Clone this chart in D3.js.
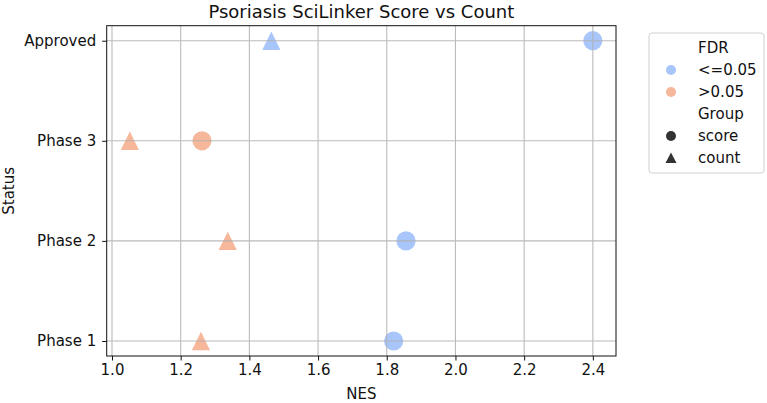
<!DOCTYPE html>
<html>
<head>
<meta charset="utf-8">
<script src="https://cdn.jsdelivr.net/npm/d3@7"></script>
<style>
  body { margin: 0; background: #fff; }
  text { font-family: "DejaVu Sans", sans-serif; fill: #111; }
</style>
</head>
<body>
<svg id="chart" width="767" height="403"></svg>
<script>
// ---- data ----
const statuses = ["Phase 1", "Phase 2", "Phase 3", "Approved"];
const scoreStatus = ["Approved", "Phase 3", "Phase 2", "Phase 1"];
const scoreNES = [2.40, 1.262, 1.856, 1.820];
const scoreFDR = ["<=0.05", ">0.05", "<=0.05", "<=0.05"];
const countStatus = ["Approved", "Phase 3", "Phase 2", "Phase 1"];
const countNES = [1.464, 1.052, 1.337, 1.259];
const countFDR = ["<=0.05", ">0.05", ">0.05", ">0.05"];
const xTicks = [1.0, 1.2, 1.4, 1.6, 1.8, 2.0, 2.2, 2.4];
const fdrLevels = ["<=0.05", ">0.05"];
const groups = ["score", "count"];

const points = [];
scoreStatus.forEach((s, i) => points.push({status: s, nes: scoreNES[i], fdr: scoreFDR[i], group: "score"}));
countStatus.forEach((s, i) => points.push({status: s, nes: countNES[i], fdr: countFDR[i], group: "count"}));

// ---- layout ----
const svg = d3.select("#chart");
const L = 106.7, R = 616, T = 25.7, B = 356;
const FS = "15px";

const xmin = d3.min(points, d => d.nes), xmax = d3.max(points, d => d.nes);
const pad = (xmax - xmin) * 0.05;
const x = d3.scaleLinear().domain([xmin - pad, xmax + pad]).range([L, R]);
const yIdx = d3.scaleLinear().domain([-0.15, 3.15]).range([B, T]);
const y = s => yIdx(statuses.indexOf(s));

const color = d3.scaleOrdinal().domain(fdrLevels).range(["#a9c6fb", "#f6b79b"]);

// markers (drawn beneath grid, like matplotlib)
const markers = svg.append("g");
markers.selectAll("path").data(points).enter().append("path")
  .attr("transform", d => `translate(${x(d.nes)},${y(d.status)})`)
  .attr("d", d => d.group === "score"
      ? d3.symbol().type(d3.symbolCircle).size(Math.PI * 9.6 * 9.6)()
      : "M0,-9.2L9.1,9.2L-9.1,9.2Z")
  .attr("fill", d => color(d.fdr));

// grid
const grid = svg.append("g").attr("stroke", "#b0b0b0").attr("stroke-width", 1.1).attr("opacity", 0.85);
grid.selectAll("line.v").data(xTicks).enter().append("line")
  .attr("x1", d => x(d)).attr("x2", d => x(d)).attr("y1", T).attr("y2", B);
grid.selectAll("line.h").data(statuses).enter().append("line")
  .attr("y1", d => y(d)).attr("y2", d => y(d)).attr("x1", L).attr("x2", R);

// frame
svg.append("rect").attr("x", L).attr("y", T).attr("width", R - L).attr("height", B - T)
  .attr("fill", "none").attr("stroke", "#111").attr("stroke-width", 1);

// axes
const xAxis = d3.axisBottom(x).tickValues(xTicks).tickFormat(d3.format(".1f")).tickSize(4.5).tickPadding(4);
const gx = svg.append("g").attr("transform", `translate(0,${B})`).call(xAxis);
gx.select(".domain").remove();
gx.selectAll("text").style("font-size", FS).style("font-family", "DejaVu Sans").attr("fill", "#111");
gx.selectAll("line").attr("stroke", "#111");

const yBand = d3.scalePoint().domain(statuses).range([yIdx(0), yIdx(3)]);
const yAxis = d3.axisLeft(yBand).tickSize(4.5).tickPadding(6);
const gy = svg.append("g").attr("transform", `translate(${L},0)`).call(yAxis);
gy.select(".domain").remove();
gy.selectAll("text").style("font-size", FS).style("font-family", "DejaVu Sans").attr("fill", "#111");
gy.selectAll("line").attr("stroke", "#111");

// labels
svg.append("text").attr("x", (L + R) / 2).attr("y", 18).attr("text-anchor", "middle")
  .style("font-size", "18px").text("Psoriasis SciLinker Score vs Count");
svg.append("text").attr("x", (L + R) / 2).attr("y", 399).attr("text-anchor", "middle")
  .style("font-size", FS).text("NES");
svg.append("text").attr("transform", `translate(14,${(T + B) / 2}) rotate(-90)`).attr("text-anchor", "middle")
  .style("font-size", FS).text("Status");

// legend
const lg = svg.append("g");
lg.append("rect").attr("x", 649).attr("y", 33).attr("width", 115).attr("height", 140)
  .attr("rx", 3).attr("fill", "#fff").attr("stroke", "#d0d0d0").attr("stroke-width", 1);
const entries = [
  {label: "FDR"},
  {label: fdrLevels[0], fill: color(fdrLevels[0]), shape: "circle"},
  {label: fdrLevels[1], fill: color(fdrLevels[1]), shape: "circle"},
  {label: "Group"},
  {label: groups[0], fill: "#333", shape: "circle"},
  {label: groups[1], fill: "#333", shape: "triangle"}
];
entries.forEach((e, i) => {
  const cy = 48 + i * 22;
  if (e.shape === "circle") {
    lg.append("circle").attr("cx", 671).attr("cy", cy).attr("r", 5).attr("fill", e.fill);
  } else if (e.shape === "triangle") {
    lg.append("path").attr("transform", `translate(671,${cy})`).attr("d", "M0,-5.5L5.5,5L-5.5,5Z").attr("fill", e.fill);
  }
  lg.append("text").attr("x", 698).attr("y", cy + 5).style("font-size", FS).text(e.label);
});
</script>
</body>
</html>
